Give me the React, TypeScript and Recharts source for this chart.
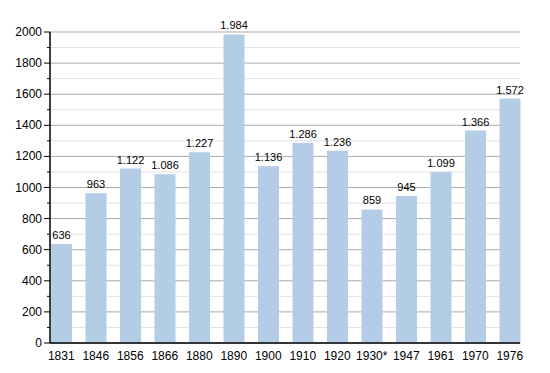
import React from "react";
import {
  Bar,
  BarChart,
  CartesianGrid,
  LabelList,
  XAxis,
  YAxis,
} from "recharts";

// census years and population
const years = [
  "1831", "1846", "1856", "1866", "1880", "1890", "1900",
  "1910", "1920", "1930*", "1947", "1961", "1970", "1976",
];
const population = [
  636, 963, 1122, 1086, 1227, 1984, 1136,
  1286, 1236, 859, 945, 1099, 1366, 1572,
];
const yTicks = [
  0, 100, 200, 300, 400, 500, 600, 700, 800, 900, 1000,
  1100, 1200, 1300, 1400, 1500, 1600, 1700, 1800, 1900, 2000,
];

const data = years.map((year, i) => ({ year, value: population[i] }));

const FONT = "'Liberation Sans', Arial, Helvetica, sans-serif";

const fmt = (v: number) => String(v).replace(/\B(?=(\d{3})+(?!\d))/g, ".");

function YTick(props: any) {
  const { x, y, payload } = props;
  const major = payload.value % 200 === 0;
  // x here is the tick's outer end; axis sits at x + tickSize
  const axisX = x + 6;
  return (
    <g>
      <line
        x1={axisX - (major ? 6 : 3)}
        x2={axisX}
        y1={y}
        y2={y}
        stroke="#000"
        strokeWidth={1}
      />
      {major && (
        <text
          x={axisX - 8}
          y={y}
          dy={4}
          textAnchor="end"
          fontSize={12}
          fontFamily={FONT}
          fill="#000"
        >
          {payload.value}
        </text>
      )}
    </g>
  );
}

function GridLine(props: any) {
  const { x1, x2, y1, y2, index } = props;
  return (
    <line
      key={`grid-${index}`}
      x1={x1}
      x2={x2}
      y1={y1}
      y2={y2}
      stroke={index % 2 === 0 ? "#a9a9a9" : "#e2e2e2"}
      strokeWidth={1}
    />
  );
}

export default function App() {
  return (
    <div style={{ position: "absolute", left: 0, top: 0, background: "#fff" }}>
      <BarChart
        width={550}
        height={373}
        data={data}
        margin={{ top: 32, right: 30, bottom: 0, left: 0 }}
        barSize={21}
      >
        <CartesianGrid vertical={false} horizontal={GridLine as any} />
        <XAxis
          dataKey="year"
          height={30}
          interval={0}
          tickLine={false}
          axisLine={{ stroke: "#000", strokeWidth: 1.5 }}
          padding={{ left: -6, right: -7 }}
          tick={{ fontSize: 12, fontFamily: FONT, fill: "#000" }}
          tickMargin={2}
        />
        <YAxis
          width={50}
          domain={[0, 2000]}
          ticks={yTicks}
          interval={0}
          tickLine={false}
          tickSize={6}
          tickMargin={0}
          axisLine={{ stroke: "#000", strokeWidth: 1.5 }}
          tick={<YTick />}
        />
        <Bar dataKey="value" fill="#b3cde6" isAnimationActive={false}>
          <LabelList
            dataKey="value"
            position="top"
            offset={5}
            formatter={(v: any) => fmt(Number(v))}
            style={{ fontSize: 11, fontFamily: FONT, fill: "#000" }}
          />
        </Bar>
      </BarChart>
    </div>
  );
}
